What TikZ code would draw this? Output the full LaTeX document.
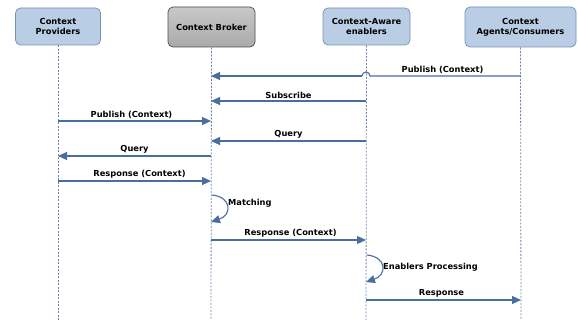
\documentclass[tikz,border=0pt]{standalone}
\usepackage{fontspec}
\setmainfont{DejaVu Sans}
\usetikzlibrary{arrows.meta}
\definecolor{boxblue}{RGB}{185,205,229}
\definecolor{boxedge}{RGB}{120,145,180}
\definecolor{msg}{RGB}{74,110,160}
\definecolor{life}{RGB}{110,135,175}
\definecolor{brokertop}{RGB}{200,200,200}
\definecolor{brokerbot}{RGB}{170,170,170}
\definecolor{brokeredge}{RGB}{80,80,80}
\tikzset{
  actor/.style={draw=boxedge, fill=boxblue, rounded corners=5pt, line width=0.7pt,
    align=center, font=\bfseries\fontsize{8.3}{10}\selectfont, inner sep=0pt},
  broker/.style={actor, draw=brokeredge, top color=brokertop, bottom color=brokerbot},
  lifeline/.style={draw=life, dashed, dash pattern=on 2pt off 1.5pt, line width=0.8pt},
  msgline/.style={draw=msg, line width=1.1pt, -{Triangle[length=9pt,width=8pt]}},
  plainline/.style={draw=msg, line width=1.1pt},
  lbl/.style={font=\bfseries\fontsize{8.3}{10}\selectfont, text=black, inner sep=1pt}
}
\begin{document}
\begin{tikzpicture}[x=1pt,y=-1pt]
\useasboundingbox (0,0) rectangle (578,320);
% actors
\node[actor, minimum width=85pt, minimum height=37pt] (prov) at (58,26.5) {Context\\Providers};
\node[broker, minimum width=87pt, minimum height=40pt] (brok) at (211.5,27) {Context Broker};
\node[actor, minimum width=87pt, minimum height=37pt] (enab) at (366.5,26.5) {Context-Aware\\enablers};
\node[actor, minimum width=111pt, minimum height=40pt] (cons) at (520.5,27) {Context\\Agents/Consumers};
% lifeline ends
\coordinate (provE) at (58,320);
\coordinate (brokE) at (211,320);
\coordinate (enabE) at (366,320);
\coordinate (consE) at (521,320);
\draw[lifeline] (prov.south) -- (provE);
\draw[lifeline] (brok.south) -- (brokE);
\draw[lifeline] (enab.south) -- (enabE);
\draw[lifeline] (cons.south) -- (consE);
% message points
\coordinate (c1) at (521,76); \coordinate (b1) at (211,76);
\coordinate (h1r) at (370,76); \coordinate (h1l) at (362,76);
\coordinate (e2) at (366,101); \coordinate (b2) at (211,101);
\coordinate (p3) at (58,121); \coordinate (b3) at (211,121);
\coordinate (e4) at (366,141); \coordinate (b4) at (211,141);
\coordinate (b5) at (211,156); \coordinate (p5) at (58,156);
\coordinate (p6) at (58,181); \coordinate (b6) at (211,181);
\coordinate (b7s) at (212,195); \coordinate (b7e) at (211,222);
\coordinate (b8) at (211,240); \coordinate (e8) at (366,240);
\coordinate (e9s) at (367,255); \coordinate (e9e) at (366,282);
\coordinate (e10) at (366,300); \coordinate (c10) at (521,300);
% messages
\draw[plainline] (c1) -- node[lbl, above=1pt, xshift=-3pt] {Publish (Context)} (h1r) arc[start angle=0, end angle=180, radius=4pt];
\draw[msgline] (h1l) -- (b1);
\draw[msgline] (e2) -- node[lbl, above=1pt] {Subscribe} (b2);
\draw[msgline] (p3) -- node[lbl, above=1pt, xshift=-3pt] {Publish (Context)} (b3);
\draw[msgline] (e4) -- node[lbl, above=1pt] {Query} (b4);
\draw[msgline] (b5) -- node[lbl, above=1pt] {Query} (p5);
\draw[msgline] (p6) -- node[lbl, above=1pt, xshift=5pt] {Response (Context)} (b6);
\draw[msgline] (b7s) .. controls (232,197) and (232,215) .. (b7e);
\node[lbl, anchor=west] (m7) at (227,203) {Matching};
\draw[msgline] (b8) -- node[lbl, above=1pt, xshift=2pt] {Response (Context)} (e8);
\draw[msgline] (e9s) .. controls (387,257) and (387,275) .. (e9e);
\node[lbl, anchor=west] (m9) at (382,267) {Enablers Processing};
\draw[msgline] (e10) -- node[lbl, above=1pt, xshift=-2pt] {Response} (c10);
\end{tikzpicture}
\end{document}
